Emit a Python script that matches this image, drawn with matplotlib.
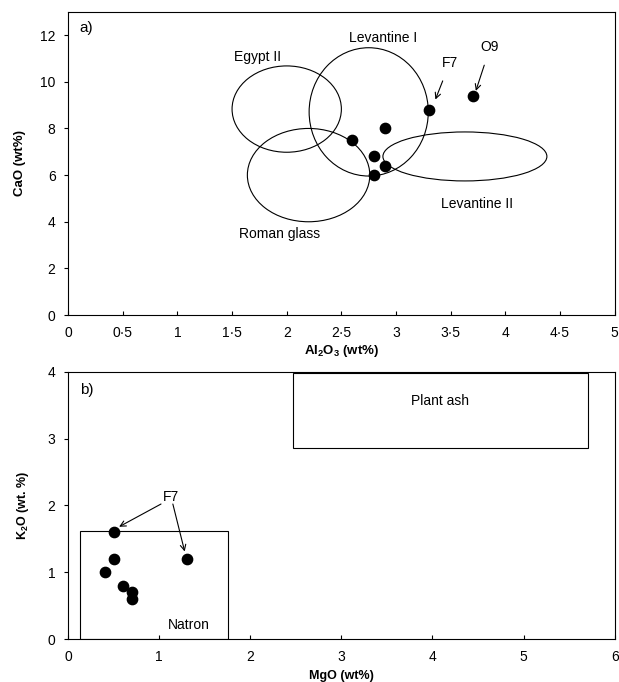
import matplotlib
matplotlib.use("Agg")
import matplotlib.pyplot as plt
from matplotlib.patches import Ellipse, Rectangle

plt.rcParams['font.family'] = ['Liberation Sans', 'DejaVu Sans']
plt.rcParams['mathtext.fontset'] = 'custom'
plt.rcParams['mathtext.rm'] = 'Liberation Sans'
plt.rcParams['mathtext.bf'] = 'Liberation Sans:bold'

# panel a: Al2O3 vs CaO
al2o3 = [2.6, 2.8, 2.9, 2.9, 2.8, 3.3, 3.7]
cao = [7.5, 6.8, 8.0, 6.4, 6.0, 8.8, 9.4]
a_xticks = [0, 0.5, 1, 1.5, 2, 2.5, 3, 3.5, 4, 4.5, 5]
a_xticklabels = ['0', '0·5', '1', '1·5', '2', '2·5', '3', '3·5', '4', '4·5', '5']
a_yticks = [0, 2, 4, 6, 8, 10, 12]
# groups: name, centre x, centre y, width, height
groups = ['Egypt II', 'Levantine I', 'Roman glass', 'Levantine II']
grp_cx = [2.0, 2.75, 2.2, 3.63]
grp_cy = [8.83, 8.71, 6.0, 6.8]
grp_w = [1.0, 1.09, 1.12, 1.5]
grp_h = [3.7, 5.5, 4.0, 2.1]
grp_lx = [1.73, 2.88, 1.93, 3.74]
grp_ly = [11.07, 11.87, 3.46, 4.76]

# panel b: MgO vs K2O
mgo = [0.5, 0.5, 0.4, 0.6, 0.7, 0.7, 1.3]
k2o = [1.6, 1.2, 1.0, 0.8, 0.7, 0.6, 1.2]
b_xticks = [0, 1, 2, 3, 4, 5, 6]
b_yticks = [0, 1, 2, 3, 4]
# boxes: name, x0, y0, x1, y1
boxes = ['Natron', 'Plant ash']
box_x0 = [0.13, 2.47]
box_y0 = [0.0, 2.855]
box_x1 = [1.755, 5.71]
box_y1 = [1.61, 3.98]
box_lx = [1.32, 4.08]
box_ly = [0.21, 3.56]

fig = plt.figure(figsize=(6.19, 6.82), dpi=100)
ax1 = fig.add_axes([0.110, 0.538, 0.883, 0.4447])
ax2 = fig.add_axes([0.110, 0.063, 0.883, 0.392])

ax1.scatter(al2o3, cao, s=55, color='black', zorder=3)
for i in range(len(groups)):
    ax1.add_patch(Ellipse((grp_cx[i], grp_cy[i]), grp_w[i], grp_h[i],
                          fill=False, edgecolor='black', lw=0.8))
    ax1.text(grp_lx[i], grp_ly[i], groups[i], ha='center', va='center', fontsize=10)
ax1.text(0.1, 12.3, 'a)', ha='left', va='center', fontsize=11)
ax1.annotate('F7', xy=(3.36, 9.24), xytext=(3.49, 10.79), ha='center', va='center',
             fontsize=10, arrowprops=dict(arrowstyle='->', lw=0.8, shrinkA=6, shrinkB=0))
ax1.annotate('O9', xy=(3.73, 9.61), xytext=(3.86, 11.47), ha='center', va='center',
             fontsize=10, arrowprops=dict(arrowstyle='->', lw=0.8, shrinkA=6, shrinkB=0))
ax1.set_xlim(0, 5)
ax1.set_ylim(0, 13)
ax1.set_xticks(a_xticks)
ax1.set_xticklabels(a_xticklabels)
ax1.set_yticks(a_yticks)
ax1.set_xlabel(r'Al$\mathbf{_2}$O$\mathbf{_3}$ (wt%)', fontweight='bold', fontsize=9.5, labelpad=2)
ax1.set_ylabel('CaO (wt%)', fontweight='bold', fontsize=9.5, labelpad=10)

ax2.scatter(mgo, k2o, s=55, color='black', zorder=3)
for i in range(len(boxes)):
    ax2.add_patch(Rectangle((box_x0[i], box_y0[i]), box_x1[i] - box_x0[i],
                            box_y1[i] - box_y0[i], fill=False, edgecolor='black', lw=0.8))
    ax2.text(box_lx[i], box_ly[i], boxes[i], ha='center', va='center', fontsize=10)
ax2.text(0.2, 3.73, 'b)', ha='center', va='center', fontsize=11)
ax2.text(1.13, 2.13, 'F7', ha='center', va='center', fontsize=10)
ax2.annotate('', xy=(0.56, 1.68), xytext=(1.02, 2.02),
             arrowprops=dict(arrowstyle='->', lw=0.8, shrinkA=0, shrinkB=0))
ax2.annotate('', xy=(1.28, 1.31), xytext=(1.15, 2.02),
             arrowprops=dict(arrowstyle='->', lw=0.8, shrinkA=0, shrinkB=0))
ax2.set_xlim(0, 6)
ax2.set_ylim(0, 4)
ax2.set_xticks(b_xticks)
ax2.set_yticks(b_yticks)
ax2.set_xlabel('MgO (wt%)', fontweight='bold', fontsize=9, labelpad=4)
ax2.set_ylabel(r'K$\mathbf{_2}$O (wt. %)', fontweight='bold', fontsize=9, labelpad=12)

for ax in (ax1, ax2):
    ax.tick_params(axis='x', direction='in', length=3, labelsize=10, pad=8)
    ax.tick_params(axis='y', direction='out', length=3, labelsize=10, pad=6)
    for sp in ax.spines.values():
        sp.set_linewidth(0.8)

fig.savefig('out.png', dpi=100)
